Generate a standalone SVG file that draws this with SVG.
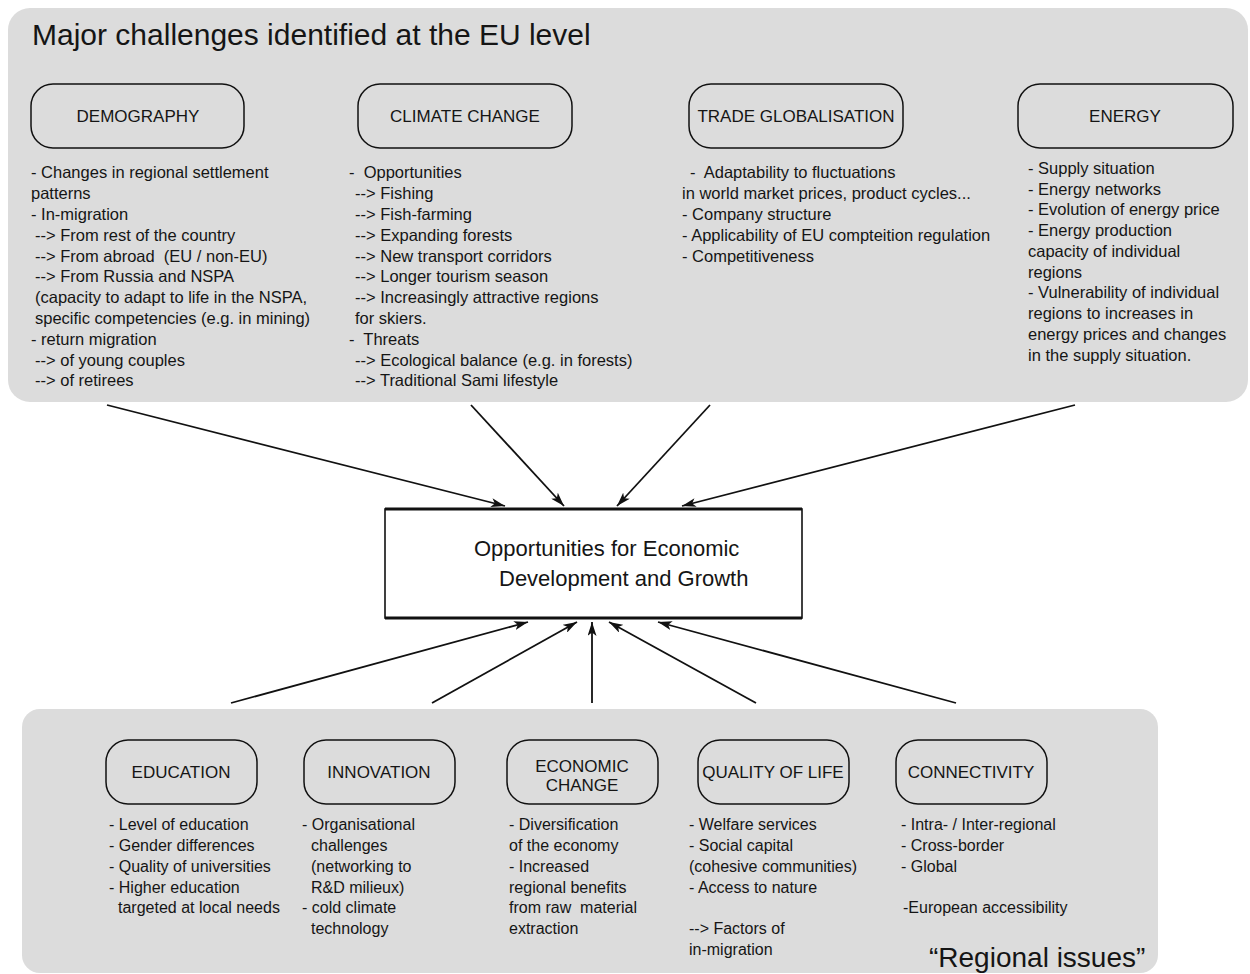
<svg xmlns="http://www.w3.org/2000/svg" width="1250" height="974" viewBox="0 0 1250 974">
<defs>
<style>
text{font-family:"Liberation Sans",Arial,sans-serif;fill:#151515}
.pre{white-space:pre}
.panel{fill:#dcdcdc;stroke:none}
.box{fill:none;stroke:#111;stroke-width:1.5}
.lbl{font-size:17px;text-anchor:middle}
.t{font-size:16.5px}
.b{font-size:16px}
.title{font-size:30px}
.conn line{stroke:#111;stroke-width:1.8;marker-end:url(#ah)}
</style>
<marker id="ah" viewBox="0 0 14 9" refX="14" refY="4.5" markerWidth="14" markerHeight="9" markerUnits="userSpaceOnUse" orient="auto">
<path d="M0,0 L14,4.5 L0,9 L3.5,4.5 z" fill="#111"/>
</marker>
</defs>
<rect width="1250" height="974" fill="#fff"/>

<g id="eu-panel">
<rect class="panel" x="8" y="8" width="1240" height="394" rx="22"/>
<text class="title" x="32" y="45">Major challenges identified at the EU level</text>
</g>

<g id="regional-panel">
<rect class="panel" x="22" y="709" width="1136" height="264" rx="18"/>
<text x="929" y="967" font-size="28px">“Regional issues”</text>
</g>

<g id="demography">
<rect class="box" x="31" y="84" width="213" height="64" rx="22"/>
<text class="lbl" x="138" y="122">DEMOGRAPHY</text>
<text class="t">
<tspan x="31" y="178">- Changes in regional settlement</tspan>
<tspan x="31" y="199">patterns</tspan>
<tspan x="31" y="220">- In-migration</tspan>
<tspan x="35" y="241">--&gt; From rest of the country</tspan>
<tspan x="35" y="262" class="pre">--&gt; From abroad  (EU / non-EU)</tspan>
<tspan x="35" y="282">--&gt; From Russia and NSPA</tspan>
<tspan x="35" y="303">(capacity to adapt to life in the NSPA,</tspan>
<tspan x="35" y="324">specific competencies (e.g. in mining)</tspan>
<tspan x="31" y="345">- return migration</tspan>
<tspan x="35" y="366">--&gt; of young couples</tspan>
<tspan x="35" y="386">--&gt; of retirees</tspan>
</text>
</g>

<g id="climate-change">
<rect class="box" x="358" y="84" width="214" height="64" rx="22"/>
<text class="lbl" x="465" y="122">CLIMATE CHANGE</text>
<text class="t">
<tspan x="349" y="178" class="pre">-  Opportunities</tspan>
<tspan x="355" y="199">--&gt; Fishing</tspan>
<tspan x="355" y="220">--&gt; Fish-farming</tspan>
<tspan x="355" y="241">--&gt; Expanding forests</tspan>
<tspan x="355" y="262">--&gt; New transport corridors</tspan>
<tspan x="355" y="282">--&gt; Longer tourism season</tspan>
<tspan x="355" y="303">--&gt; Increasingly attractive regions</tspan>
<tspan x="355" y="324">for skiers.</tspan>
<tspan x="349" y="345" class="pre">-  Threats</tspan>
<tspan x="355" y="366">--&gt; Ecological balance (e.g. in forests)</tspan>
<tspan x="355" y="386">--&gt; Traditional Sami lifestyle</tspan>
</text>
</g>

<g id="trade-globalisation">
<rect class="box" x="689" y="84" width="214" height="64" rx="22"/>
<text class="lbl" x="796" y="122">TRADE GLOBALISATION</text>
<text class="t">
<tspan x="690" y="178" class="pre">-  Adaptability to fluctuations</tspan>
<tspan x="682" y="199">in world market prices, product cycles...</tspan>
<tspan x="682" y="220">- Company structure</tspan>
<tspan x="682" y="241">- Applicability of EU compteition regulation</tspan>
<tspan x="682" y="262">- Competitiveness</tspan>
</text>
</g>

<g id="energy">
<rect class="box" x="1018" y="84" width="215" height="64" rx="22"/>
<text class="lbl" x="1125" y="122">ENERGY</text>
<text class="t">
<tspan x="1028" y="174">- Supply situation</tspan>
<tspan x="1028" y="195">- Energy networks</tspan>
<tspan x="1028" y="215">- Evolution of energy price</tspan>
<tspan x="1028" y="236">- Energy production</tspan>
<tspan x="1028" y="257">capacity of individual</tspan>
<tspan x="1028" y="278">regions</tspan>
<tspan x="1028" y="298">- Vulnerability of individual</tspan>
<tspan x="1028" y="319">regions to increases in</tspan>
<tspan x="1028" y="340">energy prices and changes</tspan>
<tspan x="1028" y="361">in the supply situation.</tspan>
</text>
</g>

<g id="opportunities">
<rect x="385" y="509" width="417" height="109" fill="#fff" stroke="#111" stroke-width="1.6"/>
<path d="M385,509 H802 M385,618 H802" stroke="#111" stroke-width="3"/>
<text x="474" y="556" font-size="22px">Opportunities for Economic</text>
<text x="499" y="586" font-size="22px">Development and Growth</text>
</g>

<g id="education">
<rect class="box" x="106" y="740" width="151" height="64" rx="22"/>
<text class="lbl" x="181" y="778">EDUCATION</text>
<text class="b">
<tspan x="109" y="830">- Level of education</tspan>
<tspan x="109" y="851">- Gender differences</tspan>
<tspan x="109" y="872">- Quality of universities</tspan>
<tspan x="109" y="893">- Higher education</tspan>
<tspan x="118" y="913">targeted at local needs</tspan>
</text>
</g>

<g id="innovation">
<rect class="box" x="304" y="740" width="151" height="64" rx="22"/>
<text class="lbl" x="379" y="778">INNOVATION</text>
<text class="b">
<tspan x="302" y="830">- Organisational</tspan>
<tspan x="311" y="851">challenges</tspan>
<tspan x="311" y="872">(networking to</tspan>
<tspan x="311" y="893">R&amp;D milieux)</tspan>
<tspan x="302" y="913">- cold climate</tspan>
<tspan x="311" y="934">technology</tspan>
</text>
</g>

<g id="economic-change">
<rect class="box" x="507" y="740" width="151" height="64" rx="22"/>
<text class="lbl" x="582" y="772">ECONOMIC</text>
<text class="lbl" x="582" y="791">CHANGE</text>
<text class="b">
<tspan x="509" y="830">- Diversification</tspan>
<tspan x="509" y="851">of the economy</tspan>
<tspan x="509" y="872">- Increased</tspan>
<tspan x="509" y="893">regional benefits</tspan>
<tspan x="509" y="913" class="pre">from raw  material</tspan>
<tspan x="509" y="934">extraction</tspan>
</text>
</g>

<g id="quality-of-life">
<rect class="box" x="698" y="740" width="151" height="64" rx="22"/>
<text class="lbl" x="773" y="778">QUALITY OF LIFE</text>
<text class="b">
<tspan x="689" y="830">- Welfare services</tspan>
<tspan x="689" y="851">- Social capital</tspan>
<tspan x="689" y="872">(cohesive communities)</tspan>
<tspan x="689" y="893">- Access to nature</tspan>
<tspan x="689" y="934">--&gt; Factors of</tspan>
<tspan x="689" y="955">in-migration</tspan>
</text>
</g>

<g id="connectivity">
<rect class="box" x="896" y="740" width="151" height="64" rx="22"/>
<text class="lbl" x="971" y="778">CONNECTIVITY</text>
<text class="b">
<tspan x="901" y="830">- Intra- / Inter-regional</tspan>
<tspan x="901" y="851">- Cross-border</tspan>
<tspan x="901" y="872">- Global</tspan>
<tspan x="903" y="913">-European accessibility</tspan>
</text>
</g>

<g id="connectors" class="conn">
<line x1="107" y1="405" x2="505" y2="506"/>
<line x1="471" y1="405" x2="564" y2="506"/>
<line x1="710" y1="405" x2="617" y2="506"/>
<line x1="1075" y1="405" x2="682" y2="506"/>
<line x1="231" y1="703" x2="528" y2="622"/>
<line x1="432" y1="703" x2="577" y2="622"/>
<line x1="592" y1="703" x2="592" y2="622"/>
<line x1="756" y1="703" x2="609" y2="622"/>
<line x1="956" y1="703" x2="658" y2="622"/>
</g>
</svg>
